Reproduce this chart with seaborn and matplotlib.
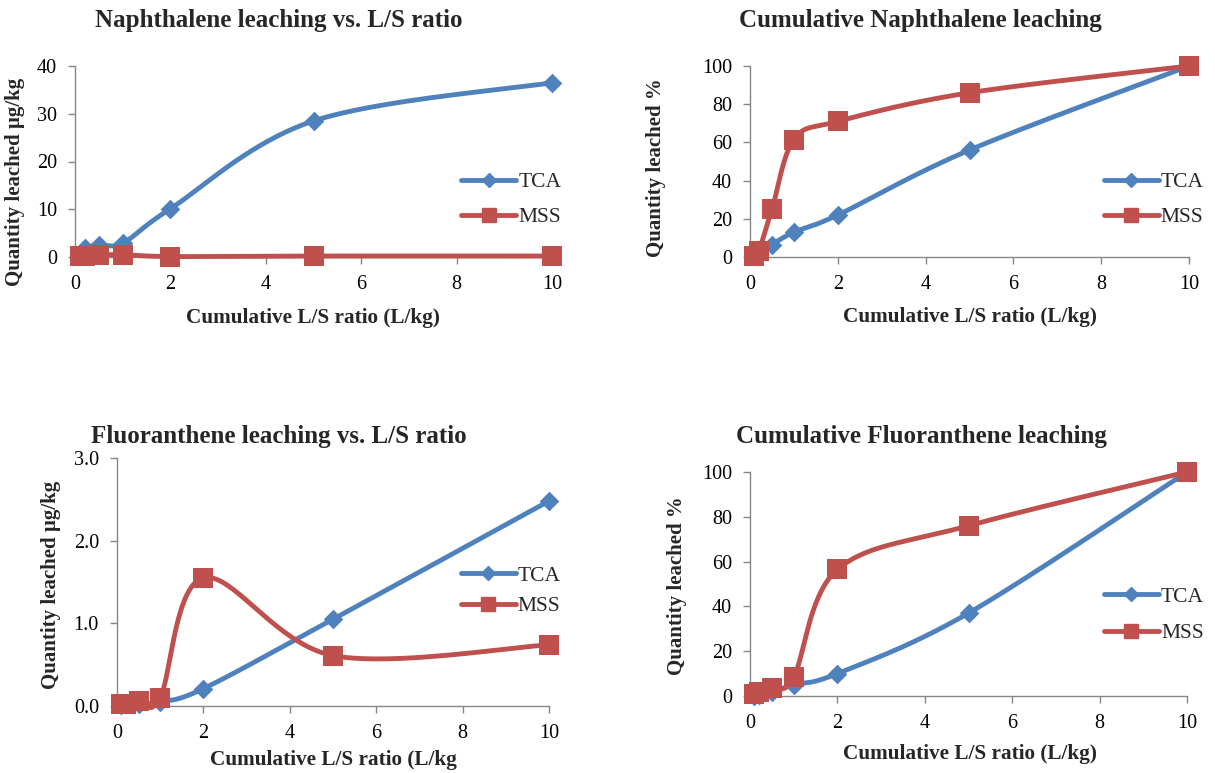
import numpy as np
import pandas as pd
import matplotlib
matplotlib.use("Agg")
import matplotlib.pyplot as plt
from matplotlib.lines import Line2D
import seaborn as sns

# ---------------- data ----------------
ls_ratio = [0.1, 0.2, 0.5, 1, 2, 5, 10]

naph_tca = [0.5, 1.8, 2.6, 2.9, 10.1, 28.5, 36.5]
naph_mss = [0.2, 0.3, 0.4, 0.5, 0.1, 0.2, 0.2]

naph_cum_tca = [0.5, 2.0, 6.5, 13.0, 22.0, 56.0, 100.0]
naph_cum_mss = [0.5, 3.0, 25.0, 61.5, 71.0, 86.0, 100.0]

fluo_tca = [0.01, 0.02, 0.03, 0.05, 0.21, 1.05, 2.48]
fluo_mss = [0.03, 0.03, 0.06, 0.10, 1.55, 0.61, 0.74]

fluo_cum_tca = [0.0, 0.5, 2.0, 5.0, 10.0, 37.0, 100.0]
fluo_cum_mss = [1.0, 2.0, 3.5, 8.5, 56.5, 76.0, 100.0]

series_names = ["TCA", "MSS"]
titles = ["Naphthalene leaching vs. L/S ratio", "Cumulative Naphthalene leaching",
          "Fluoranthene leaching vs. L/S ratio", "Cumulative Fluoranthene leaching"]
xlabels = ["Cumulative L/S ratio (L/kg)", "Cumulative L/S ratio (L/kg)",
           "Cumulative L/S ratio (L/kg", "Cumulative L/S ratio (L/kg)"]
ylabels = ["Quantity leached \u00b5g/kg", "Quantity leached %",
           "Quantity leached \u00b5g/kg", "Quantity leached %"]
x_ticks = [0, 2, 4, 6, 8, 10]
y_ticks = [[0, 10, 20, 30, 40], [0, 20, 40, 60, 80, 100],
           [0.0, 1.0, 2.0, 3.0], [0, 20, 40, 60, 80, 100]]
y_ticklabels = [["0", "10", "20", "30", "40"], ["0", "20", "40", "60", "80", "100"],
                ["0.0", "1.0", "2.0", "3.0"], ["0", "20", "40", "60", "80", "100"]]

# ---------------- style ----------------
sns.set_style("ticks")
plt.rcParams["font.family"] = ["Liberation Serif", "DejaVu Serif"]
BLUE = "#4F81BD"
RED = "#C0504D"
GREY = "#868686"

W, H = 1215, 773
fig = plt.figure(figsize=(W / 100, H / 100), dpi=100)


def px_rect(l, r, t, b):
    return [l / W, 1 - b / H, (r - l) / W, (b - t) / H]


def px(x, y):
    return x / W, 1 - y / H


def smooth(xs, ys, ax_w, ax_h, xr, yr, n=40):
    """Excel-like smoothed curve (Catmull-Rom Bezier) computed in screen space."""
    sx = ax_w / (xr[1] - xr[0])
    sy = ax_h / (yr[1] - yr[0])
    P = np.column_stack([np.asarray(xs) * sx, np.asarray(ys) * sy])
    out = []
    m = len(P)
    for i in range(m - 1):
        p0 = P[i - 1] if i > 0 else P[i]
        p1 = P[i]
        p2 = P[i + 1]
        p3 = P[i + 2] if i + 2 < m else P[i + 1]
        c1 = p1 + (p2 - p0) / 6.0
        c2 = p2 - (p3 - p1) / 6.0
        t = np.linspace(0, 1, n)[:, None]
        seg = ((1 - t) ** 3) * p1 + 3 * ((1 - t) ** 2) * t * c1 + 3 * (1 - t) * t ** 2 * c2 + t ** 3 * p2
        out.append(seg if i == 0 else seg[1:])
    Q = np.vstack(out)
    return Q[:, 0] / sx, Q[:, 1] / sy


panels = [
    dict(rect=(75, 552, 66, 257), ylim=(0, 40), data=(naph_tca, naph_mss),
         title=(279, 21), xlab=(313, 318), ylab=(15, 182), leg=(0.81, 0.30), ls=0.68),
    dict(rect=(750, 1189, 66, 257), ylim=(0, 100), data=(naph_cum_tca, naph_cum_mss),
         title=(920, 20), xlab=(970, 317), ylab=(656, 168), leg=(0.806, 0.30), ls=0.68),
    dict(rect=(117, 549, 458, 706), ylim=(0, 3.0), data=(fluo_tca, fluo_mss),
         title=(279, 436), xlab=(333, 760), ylab=(51, 585), leg=(0.796, 0.464), ls=0.49),
    dict(rect=(750, 1187, 472, 696), ylim=(0, 100), data=(fluo_cum_tca, fluo_cum_mss),
         title=(921, 436), xlab=(970, 754), ylab=(677, 586), leg=(0.81, 0.362), ls=0.77),
]

for k, p in enumerate(panels):
    l, r, t, b = p["rect"]
    ax = fig.add_axes(px_rect(l, r, t, b))
    xr = (0, 10)
    yr = p["ylim"]
    for vals, name, col, mk, ms in zip(p["data"], series_names, [BLUE, RED], ["D", "s"], [10.0, 15.0]):
        cx, cy = smooth(ls_ratio, vals, r - l, b - t, xr, yr)
        curve = pd.DataFrame({"x": cx, "y": cy})
        sns.lineplot(data=curve, x="x", y="y", sort=False, estimator=None, ax=ax,
                     color=col, linewidth=3.5, clip_on=False, zorder=3)
        pts = pd.DataFrame({"x": ls_ratio, "y": vals})
        sns.scatterplot(data=pts, x="x", y="y", ax=ax, marker=mk, s=ms ** 2,
                        color=col, linewidth=0, clip_on=False, zorder=4)
    ax.set_xlim(*xr)
    ax.set_ylim(*yr)
    ax.set_xticks(x_ticks)
    ax.set_yticks(y_ticks[k])
    ax.set_yticklabels(y_ticklabels[k])
    ax.set_xlabel("")
    ax.set_ylabel("")
    sns.despine(ax=ax)
    for s in ["left", "bottom"]:
        ax.spines[s].set_color(GREY)
        ax.spines[s].set_linewidth(1.0)
    ax.tick_params(axis="both", direction="out", length=5, width=1, color=GREY,
                   labelsize=14.5, labelcolor="black", pad=8)
    ax.set_facecolor("none")

    handles = [Line2D([], [], color=BLUE, lw=3.5, marker="D", markersize=7),
               Line2D([], [], color=RED, lw=3.5, marker="s", markersize=9.5)]
    ax.legend(handles, series_names, loc="center left", bbox_to_anchor=p["leg"],
              frameon=False, fontsize=15.5, handlelength=2.55, handletextpad=0.1,
              labelspacing=p["ls"], borderpad=0, borderaxespad=0)

    fig.text(*px(*p["title"]), titles[k], ha="center", va="center",
             fontsize=18, fontweight="bold")
    fig.text(*px(*p["xlab"]), xlabels[k], ha="center", va="center",
             fontsize=15.3, fontweight="bold")
    fig.text(*px(*p["ylab"]), ylabels[k], ha="center", va="center",
             fontsize=15, fontweight="bold", rotation=90)

fig.savefig("out.png", dpi=100, facecolor="white")
